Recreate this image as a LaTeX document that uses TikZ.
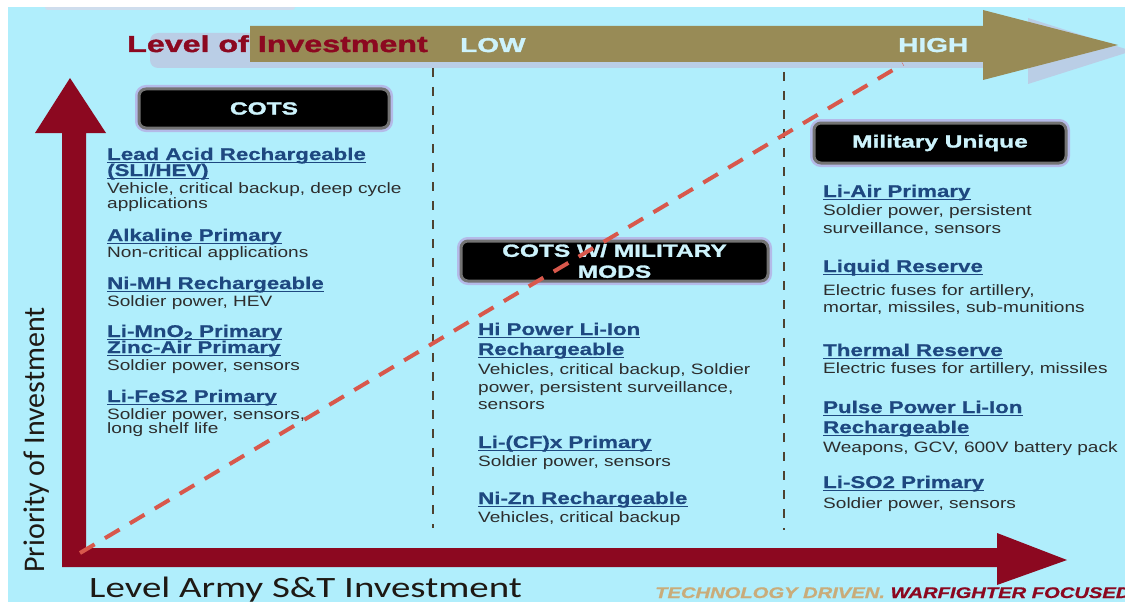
\documentclass[tikz,border=0pt]{standalone}
\usepackage{fontspec}
\setmainfont{Liberation Sans}
\newfontfamily\titlefont[FakeStretch=1.31,FakeBold=0.6]{Liberation Sans}
\newfontfamily\descfont[FakeStretch=1.27]{Liberation Sans}
\newfontfamily\widefont[FakeStretch=1.40,FakeBold=1.6]{Liberation Sans}
\newfontfamily\tagfont[FakeStretch=1.31,FakeBold=1]{Liberation Sans}
\newfontfamily\calfont{Carlito}
\newfontfamily\widecalfont[FakeStretch=1.32]{Carlito}

\definecolor{bgcyan}{RGB}{176,238,252}
\definecolor{darkred}{RGB}{140,8,32}
\definecolor{investgold}{RGB}{152,139,86}
\definecolor{arrowshade}{RGB}{186,206,230}
\definecolor{dashred}{RGB}{216,88,76}
\definecolor{sepbrown}{RGB}{78,66,48}
\definecolor{titleblue}{RGB}{30,72,128}
\definecolor{desctext}{RGB}{45,45,45}
\definecolor{palecyan}{RGB}{205,243,252}
\definecolor{tagtan}{RGB}{201,172,122}
\definecolor{boxglow}{RGB}{180,186,232}
\definecolor{axistext}{RGB}{30,25,20}

\begin{document}
\begin{tikzpicture}[x=1pt,y=-1pt,
    itemtitle/.style={anchor=base west, inner sep=0pt, text=titleblue,
      font=\titlefont\bfseries\fontsize{17}{20}\selectfont},
    itemdesc/.style={anchor=base west, inner sep=0pt, text=desctext,
      font=\descfont\fontsize{15}{18}\selectfont},
    ulbar/.style={titleblue, line width=1.3pt},
    milbox/.style={fill=black, draw=black!55, line width=3pt, rounded corners=7pt,
      preaction={draw=boxglow, line width=8pt},
      text=palecyan, align=center, inner sep=0pt,
      font=\widefont\bfseries\fontsize{17.5}{21}\selectfont},
    sepline/.style={sepbrown, line width=2.8pt, dash pattern=on 9pt off 10pt}]

  % page and background
  \useasboundingbox (0,0) rectangle (1125,602);
  \fill[white] (0,0) rectangle (1125,602);
  \fill[bgcyan] (8,7) rectangle (1125,602);
  \fill[arrowshade!70!white, rounded corners=3pt] (45,3) rectangle (295,10);
  \fill[white] (0,0) rectangle (1125,7);

  % investment arrow with its shadow
  \fill[arrowshade] (1028,33) -- (1028,18) -- (1132,51) -- (1028,84) -- (1028,68)
    [rounded corners=8pt] -- (150,68) -- (150,33) [sharp corners] -- cycle;
  \fill[investgold] (250,26) -- (983,26) -- (983,10) -- (1118,45) -- (983,80)
    -- (983,62) -- (250,62) -- cycle;
  \node[anchor=base west, inner sep=0pt, text=darkred,
    font=\widefont\bfseries\fontsize{23}{26}\selectfont] (levinv) at (127,52) {Level of Investment};
  \node[anchor=base west, inner sep=0pt, text=palecyan,
    font=\widefont\bfseries\fontsize{20}{24}\selectfont] (low) at (460,52) {LOW};
  \node[anchor=base west, inner sep=0pt, text=palecyan,
    font=\widefont\bfseries\fontsize{20}{24}\selectfont] (high) at (898,52) {HIGH};

  % column separators
  \draw[sepline] (433,68) -- (433,528);
  \draw[sepline] (784,72) -- (784,530);

  % axes
  \fill[darkred] (62,567) -- (62,133) -- (35,133) -- (70,78) -- (106,133) -- (86,133)
    -- (86,548) -- (997,548) -- (997,533) -- (1067,560) -- (997,585) -- (997,567) -- cycle;

  % headers
  \node[milbox, minimum width=250pt, minimum height=39pt] (cots) at (264,108.5) {COTS};
  \node[milbox, minimum width=307pt, minimum height=40pt] (mods) at (614.5,261) {COTS W/ MILITARY\\MODS};
  \node[milbox, minimum width=252pt, minimum height=40pt] (unique) at (940,143) {Military Unique};

  % COTS column
  \foreach \y/\txt [count=\i] in {160/{Lead Acid Rechargeable}, 176/{(SLI/HEV)},
      241/{Alkaline Primary}, 289/{Ni-MH Rechargeable}, 337/{Li-MnO\textsubscript{2} Primary},
      353/{Zinc-Air Primary}, 402/{Li-FeS2 Primary}} {
    \node[itemtitle] (cotsT\i) at (107,\y) {\txt};
    \draw[ulbar] ([yshift=-2.5pt]cotsT\i.base west) -- ([yshift=-2.5pt]cotsT\i.base east);
  }
  \foreach \y/\txt [count=\i] in {193/{Vehicle, critical backup, deep cycle}, 208/{applications},
      257/{Non-critical applications}, 306/{Soldier power, HEV}, 370/{Soldier power, sensors},
      419/{Soldier power, sensors,}, 433/{long shelf life}}
    \node[itemdesc] (cotsD\i) at (107,\y) {\txt};

  % COTS w/ military mods column
  \foreach \y/\txt [count=\i] in {335/{Hi Power Li-Ion}, 355/{Rechargeable},
      448/{Li-(CF)x Primary}, 504/{Ni-Zn Rechargeable}} {
    \node[itemtitle] (modsT\i) at (478,\y) {\txt};
    \draw[ulbar] ([yshift=-2.5pt]modsT\i.base west) -- ([yshift=-2.5pt]modsT\i.base east);
  }
  \foreach \y/\txt [count=\i] in {374/{Vehicles, critical backup, Soldier},
      392/{power, persistent surveillance,}, 409/{sensors}, 466/{Soldier power, sensors},
      522/{Vehicles, critical backup}}
    \node[itemdesc] (modsD\i) at (478,\y) {\txt};

  % military unique column
  \foreach \y/\txt [count=\i] in {197/{Li-Air Primary}, 272/{Liquid Reserve},
      356/{Thermal Reserve}, 413/{Pulse Power Li-Ion}, 433/{Rechargeable},
      488/{Li-SO2 Primary}} {
    \node[itemtitle] (uniqT\i) at (823,\y) {\txt};
    \draw[ulbar] ([yshift=-2.5pt]uniqT\i.base west) -- ([yshift=-2.5pt]uniqT\i.base east);
  }
  \foreach \y/\txt [count=\i] in {215/{Soldier power, persistent}, 233/{surveillance, sensors},
      295/{Electric fuses for artillery,}, 312/{mortar, missiles, sub-munitions},
      373/{Electric fuses for artillery, missiles}, 452/{Weapons, GCV, 600V battery pack},
      508/{Soldier power, sensors}}
    \node[itemdesc] (uniqD\i) at (823,\y) {\txt};

  % trend line
  \draw[dashred, line width=4pt, dash pattern=on 17pt off 12pt] (80,553) -- (903,64);

  % axis labels
  \node[rotate=90, text=axistext, font=\calfont\fontsize{30}{36}\selectfont] (prio) at (37,440) {Priority of Investment};
  \node[anchor=base west, inner sep=0pt, text=axistext,
    font=\widecalfont\fontsize{29.5}{34}\selectfont] (army) at (89,597) {Level Army S\&T Investment};
  \node[anchor=base west, inner sep=0pt, font=\tagfont\bfseries\itshape\fontsize{15.4}{18}\selectfont]
    (tag) at (655,598) {\textcolor{tagtan}{TECHNOLOGY DRIVEN.} \textcolor{darkred}{WARFIGHTER FOCUSED}};
\end{tikzpicture}
\end{document}
